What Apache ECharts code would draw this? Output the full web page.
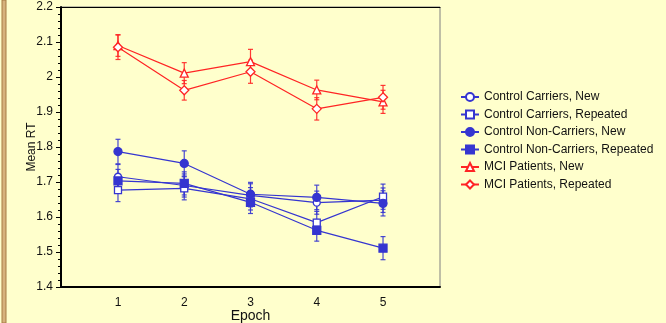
<!DOCTYPE html>
<html>
<head>
<meta charset="utf-8">
<script src="https://cdn.jsdelivr.net/npm/echarts@6/dist/echarts.min.js"></script>
<style>
  html, body { margin: 0; padding: 0; background: #ffffcc; }
  #chart { width: 666px; height: 323px; }
</style>
</head>
<body>
<div id="chart"></div>
<script>
// epochs
const epochs = [1, 2, 3, 4, 5];
const yTicks = [1.4, 1.5, 1.6, 1.7, 1.8, 1.9, 2.0, 2.1, 2.2];

// mean RT per group
const ccNew = [1.715, 1.690, 1.662, 1.641, 1.648];
const ccRep = [1.677, 1.682, 1.652, 1.584, 1.658];
const cncNew = [1.787, 1.753, 1.665, 1.656, 1.639];
const cncRep = [1.703, 1.696, 1.642, 1.562, 1.511];
const mciNew = [2.090, 2.011, 2.044, 1.963, 1.929];
const mciRep = [2.085, 1.962, 2.015, 1.909, 1.942];

// error bar half widths
const ccNewErr = [0.035, 0.033, 0.033, 0.033, 0.035];
const ccRepErr = [0.033, 0.033, 0.032, 0.032, 0.036];
const cncNewErr = [0.035, 0.036, 0.034, 0.035, 0.036];
const cncRepErr = [0.033, 0.033, 0.032, 0.031, 0.033];
const mciNewErr = [0.031, 0.030, 0.035, 0.028, 0.033];
const mciRepErr = [0.035, 0.028, 0.033, 0.032, 0.034];

const BLUE = '#3535d0';
const RED = '#ff2424';
const FONT = 'Liberation Sans';

const groups = [
  { name: 'Control Carriers, New', vals: ccNew, err: ccNewErr, color: BLUE, symbol: 'circle', size: 7, open: true },
  { name: 'Control Carriers, Repeated', vals: ccRep, err: ccRepErr, color: BLUE, symbol: 'rect', size: 7, open: true },
  { name: 'Control Non-Carriers, New', vals: cncNew, err: cncNewErr, color: BLUE, symbol: 'circle', size: 8, open: false },
  { name: 'Control Non-Carriers, Repeated', vals: cncRep, err: cncRepErr, color: BLUE, symbol: 'rect', size: 8, open: false },
  { name: 'MCI Patients, New', vals: mciNew, err: mciNewErr, color: RED, symbol: 'triangle', size: 8, open: true },
  { name: 'MCI Patients, Repeated', vals: mciRep, err: mciRepErr, color: RED, symbol: 'diamond', size: 9, open: true },
];

const myChart = echarts.init(document.getElementById('chart'));

// error bars drawn as custom series
const errSeries = groups.map(g => ({
  type: 'custom',
  name: g.name + ' err',
  silent: true,
  z: 1,
  data: epochs.map((e, i) => [e, g.vals[i] - g.err[i], g.vals[i] + g.err[i]]),
  renderItem: (params, api) => {
    const lo = api.coord([api.value(0), api.value(1)]);
    const hi = api.coord([api.value(0), api.value(2)]);
    const w = 2.5;
    const st = { stroke: g.color, lineWidth: 1.2, opacity: 0.9 };
    return {
      type: 'group',
      children: [
        { type: 'line', shape: { x1: lo[0], y1: lo[1], x2: hi[0], y2: hi[1] }, style: st },
        { type: 'line', shape: { x1: lo[0] - w, y1: lo[1], x2: lo[0] + w, y2: lo[1] }, style: st },
        { type: 'line', shape: { x1: hi[0] - w, y1: hi[1], x2: hi[0] + w, y2: hi[1] }, style: st },
      ],
    };
  },
}));

const lineSeries = groups.map(g => ({
  type: 'line',
  name: g.name,
  z: 3,
  data: epochs.map((e, i) => [e, g.vals[i]]),
  symbol: g.symbol,
  symbolSize: g.size,
  showAllSymbol: true,
  lineStyle: { color: g.color, width: 1.2 },
  itemStyle: {
    color: g.open ? '#ffffff' : g.color,
    borderColor: g.color,
    borderWidth: 1.3,
  },
  emphasis: { disabled: true },
}));

const option = {
  backgroundColor: '#ffffcc',
  animation: false,
  textStyle: { fontFamily: FONT },
  grid: {
    left: 61, right: 226, top: 7, bottom: 36,
    outerBoundsMode: 'none',
    containLabel: false,
    show: true, borderColor: '#808080', borderWidth: 1,
  },
  legend: {
    orient: 'vertical',
    left: 455,
    top: 86,
    itemWidth: 18,
    itemHeight: 10,
    itemGap: 5.5,
    data: groups.map(g => g.name),
    textStyle: { fontFamily: FONT, fontSize: 12, color: '#111' },
  },
  xAxis: [
    {
      type: 'value',
      min: 0.14,
      max: 5.86,
      interval: 1,
      name: 'Epoch',
      nameLocation: 'middle',
      nameGap: 22,
      nameMoveOverlap: false,
      nameTextStyle: { fontFamily: FONT, fontSize: 14, color: '#111' },
      axisLine: { lineStyle: { color: '#000', width: 2 } },
      axisTick: { show: false },
      splitLine: { show: false },
      axisLabel: {
        fontFamily: FONT, fontSize: 12, color: '#111', margin: 10,
        customValues: epochs,
        formatter: v => String(v),
      },
    },
    {
      type: 'value', position: 'top', min: 0.14, max: 5.86,
      axisLine: { show: true, lineStyle: { color: '#000', width: 1 } },
      axisTick: { show: false }, axisLabel: { show: false }, splitLine: { show: false },
    },
  ],
  yAxis: {
    type: 'value',
    min: 1.4,
    max: 2.2,
    interval: 0.1,
    name: 'Mean RT',
    nameLocation: 'middle',
    nameGap: 23,
    nameMoveOverlap: false,
    nameTextStyle: { fontFamily: FONT, fontSize: 12, color: '#111' },
    axisLine: { show: true, lineStyle: { color: '#000', width: 2 } },
    axisTick: { show: true, length: 5, lineStyle: { color: '#000' } },
    minorTick: { show: true, splitNumber: 5, length: 3, lineStyle: { color: '#000' } },
    splitLine: { show: false },
    axisLabel: {
      fontFamily: FONT, fontSize: 12, color: '#111', margin: 8,
      padding: [3, 0, 0, 0],
      customValues: yTicks,
      formatter: v => String(Math.round(v * 10) / 10),
    },
  },
  graphic: [
    { type: 'rect', shape: { x: 2, y: 0, width: 4, height: 323 },
      style: { fill: '#d6b27c', stroke: '#a67c45', lineWidth: 1 }, silent: true },
  ],
  series: [...errSeries, ...lineSeries],
};

myChart.setOption(option);
window.addEventListener('resize', () => myChart.resize());
</script>
</body>
</html>
